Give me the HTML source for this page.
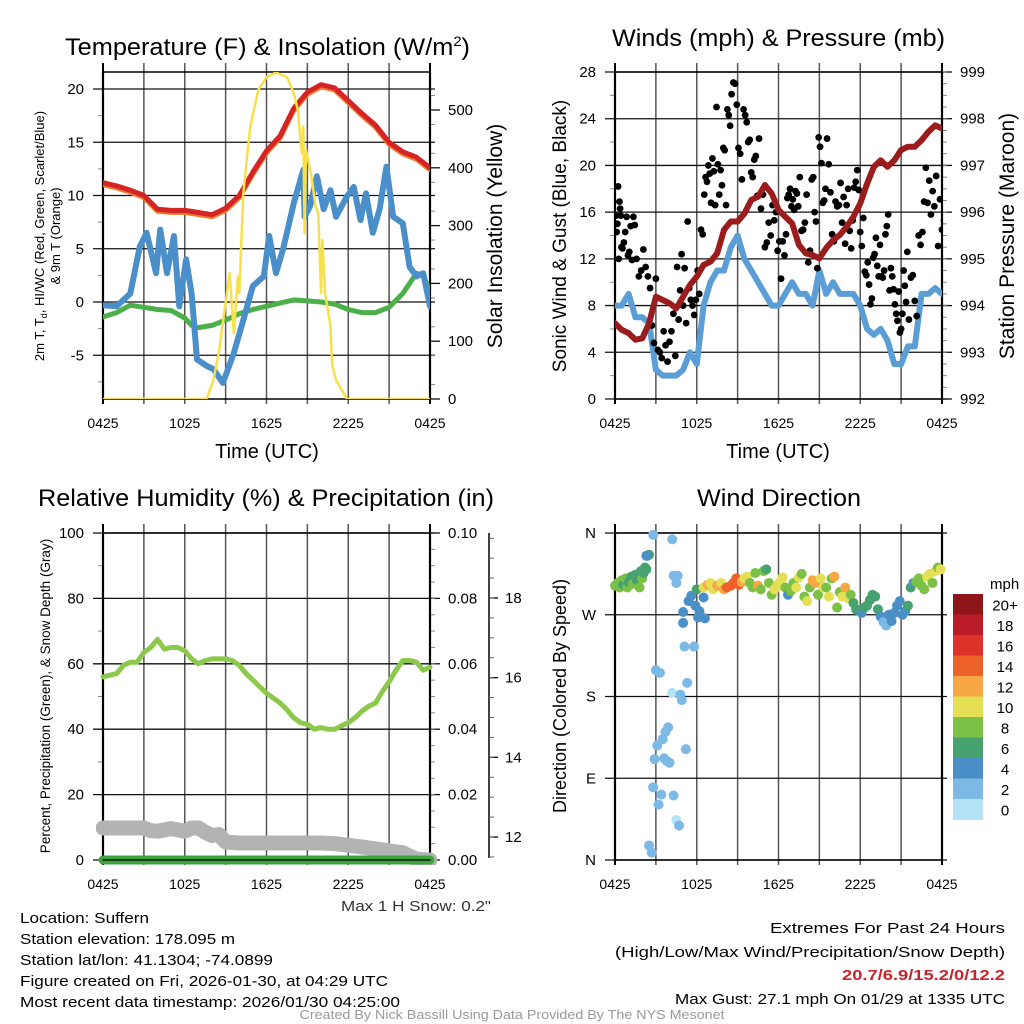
<!DOCTYPE html>
<html><head><meta charset="utf-8"><title>Suffern meteogram</title>
<style>
html,body{margin:0;padding:0;background:#fff;}
svg{display:block;font-family:"Liberation Sans",Arial,sans-serif;}
</style></head>
<body>
<svg id="chart" width="1024" height="1024" viewBox="0 0 1024 1024" xmlns="http://www.w3.org/2000/svg">
<rect width="1024" height="1024" fill="#fff"/>
<defs>
<clipPath id="c1"><rect x="103" y="72" width="327" height="327"/></clipPath>
<clipPath id="c2"><rect x="615" y="72" width="327" height="327"/></clipPath>
<clipPath id="c3"><rect x="96" y="520" width="341" height="345"/></clipPath>
<clipPath id="c4"><rect x="609" y="527" width="339" height="339"/></clipPath>
</defs>
<text x="65" y="55" font-size="24" textLength="405" lengthAdjust="spacingAndGlyphs">Temperature (F) &amp; Insolation (W/m<tspan dy="-9" font-size="14">2</tspan><tspan dy="9">)</tspan></text>
<text x="612" y="46" font-size="24" textLength="333" lengthAdjust="spacingAndGlyphs">Winds (mph) &amp; Pressure (mb)</text>
<text x="38" y="506" font-size="24" textLength="456" lengthAdjust="spacingAndGlyphs">Relative Humidity (%) &amp; Precipitation (in)</text>
<text x="697" y="506" font-size="24" textLength="164" lengthAdjust="spacingAndGlyphs">Wind Direction</text>

<text x="267" y="458" font-size="20" text-anchor="middle">Time (UTC)</text>
<text x="778" y="458" font-size="20" text-anchor="middle">Time (UTC)</text>
<text transform="translate(44,236) rotate(-90)" font-size="13" text-anchor="middle">2m T, T<tspan font-size="9" dy="3">d</tspan><tspan dy="-3">, HI/WC (Red, Green, Scarlet/Blue)</tspan></text>
<text transform="translate(60,236) rotate(-90)" font-size="13" text-anchor="middle">&amp; 9m T (Orange)</text>
<text transform="translate(502,236) rotate(-90)" font-size="21" text-anchor="middle">Solar Insolation (Yellow)</text>
<text transform="translate(566,236) rotate(-90)" font-size="19" text-anchor="middle">Sonic Wind &amp; Gust (Blue, Black)</text>
<text transform="translate(1014,236) rotate(-90)" font-size="21" text-anchor="middle">Station Pressure (Maroon)</text>
<text transform="translate(50,696) rotate(-90)" font-size="13.5" text-anchor="middle">Percent, Precipitation (Green), &amp; Snow Depth (Gray)</text>
<text transform="translate(566,696) rotate(-90)" font-size="18" text-anchor="middle">Direction (Colored By Speed)</text>

<g id="footer" font-size="15">
<text x="491" y="911" text-anchor="end" fill="#333" textLength="150" lengthAdjust="spacingAndGlyphs">Max 1 H Snow: 0.2"</text>
<text x="20" y="923" textLength="129" lengthAdjust="spacingAndGlyphs">Location: Suffern</text>
<text x="20" y="944" textLength="215" lengthAdjust="spacingAndGlyphs">Station elevation: 178.095 m</text>
<text x="20" y="965" textLength="253" lengthAdjust="spacingAndGlyphs">Station lat/lon: 41.1304; -74.0899</text>
<text x="20" y="986" textLength="368" lengthAdjust="spacingAndGlyphs">Figure created on Fri, 2026-01-30, at 04:29 UTC</text>
<text x="20" y="1007" textLength="380" lengthAdjust="spacingAndGlyphs">Most recent data timestamp: 2026/01/30 04:25:00</text>
<text x="1005" y="933" text-anchor="end" textLength="235" lengthAdjust="spacingAndGlyphs">Extremes For Past 24 Hours</text>
<text x="1005" y="957" text-anchor="end" textLength="390" lengthAdjust="spacingAndGlyphs">(High/Low/Max Wind/Precipitation/Snow Depth)</text>
<text x="1005" y="980" text-anchor="end" fill="#cc2229" font-weight="bold" textLength="163" lengthAdjust="spacingAndGlyphs">20.7/6.9/15.2/0/12.2</text>
<text x="1005" y="1004" text-anchor="end" textLength="330" lengthAdjust="spacingAndGlyphs">Max Gust: 27.1 mph On 01/29 at 1335 UTC</text>
<text x="512" y="1019" text-anchor="middle" fill="#999" font-size="13" textLength="425" lengthAdjust="spacingAndGlyphs">Created By Nick Bassill Using Data Provided By The NYS Mesonet</text>
</g>
</svg>
<script>
// ---------- data ----------
const hourT = [0,1,2,3,4,5,6,7,8,9,10,11,12,13,14,15,16,17,18,19,20,21,22,23,24];
const tempF = [11.2,10.9,10.5,10.0,8.7,8.6,8.6,8.4,8.2,8.8,10.0,12.2,14.2,15.6,18.2,19.7,20.4,20.1,18.9,17.7,16.6,15.0,14.1,13.6,12.6];
const dewT = [0,1,2,3,4,5,6,6.5,7,8,9,10,11,12,13,14,15,16,17,18,19,20,21,22,23,23.5,24];
const dewF = [-1.4,-1.0,-0.3,-0.5,-0.7,-0.8,-1.5,-2.2,-2.4,-2.2,-1.7,-1.1,-0.7,-0.4,-0.1,0.2,0.1,0.0,-0.2,-0.7,-1.0,-1.0,-0.5,0.8,2.7,2.5,1.0];
const wcT = [0,1,2,2.7,3.2,3.9,4.2,4.7,5.2,5.6,6.1,6.5,6.9,7.6,8.1,8.8,9.6,10.3,11,11.8,12.2,12.7,13.2,14,14.7,14.8,15.2,15.7,16.2,16.7,17.1,17.9,18.4,18.9,19.3,19.8,20.3,20.8,21.3,22,22.5,23,23.5,24];
const wcF = [-0.3,-0.4,0.8,5.2,6.5,2.7,6.8,2.7,6.2,-0.4,4.0,0.8,-5.4,-6.0,-6.3,-7.6,-4.8,-1.7,1.5,2.4,6.2,2.7,4.9,9.3,12.4,8.0,9.0,11.8,8.7,10.5,8.0,9.9,10.8,7.7,10.2,6.5,8.7,12.7,8.0,7.4,3.3,2.4,2.7,-0.4];
const solT = [0,7.6,8.1,8.5,9.3,9.6,9.9,10,10.3,10.8,11.4,12,12.7,13.5,14,14.3,14.6,14.7,14.8,14.9,15.3,15.6,15.8,16,16.1,16.3,16.7,16.8,17.1,17.9,24];
const solW = [0,0,33,80,218,114,212,183,356,471,535,557,565,557,529,500,425,471,287,431,385,333,321,183,275,183,126,62,33,0,0];
const tempTicks = [-5,0,5,10,15,20];
const solTicks = [0,100,200,300,400,500];
const timeLabels = ['0425','1025','1625','2225','0425'];

const halfT = [0,0.5,1,1.5,2,2.5,3,3.5,4,4.5,5,5.5,6,6.5,7,7.5,8,8.5,9,9.5,10,10.5,11,11.5,12,12.5,13,13.5,14,14.5,15,15.5,16,16.5,17,17.5,18,18.5,19,19.5,20,20.5,21,21.5,22,22.5,23,23.5,24];
const presMb = [993.62,993.48,993.41,993.27,993.3,993.62,994.19,994.12,994.05,993.94,994.19,994.44,994.62,994.87,994.94,995.12,995.62,995.8,995.8,995.97,996.26,996.33,996.58,996.4,996.05,995.9,995.76,995.3,995.12,995.08,995.01,995.23,995.4,995.51,995.69,995.9,996.19,996.61,996.97,997.11,996.97,997.11,997.33,997.4,997.4,997.54,997.72,997.86,997.79];
const windMph = [8,8,9,7,7,6.5,2.5,2,2,2,2.5,4,3,8,10,11,11,13,14,12,11,10,9,8,8,9,10,9,9,8,11,9,10,9,9,9,8,6,5.5,6,5,3,3,4.5,4.5,9,9,9.5,9];
const gustBlockStart = [0,0.5,1.5,2.5,3.5,4.5,5.5,6.5,7.5,8.5,9.5,10.5,11.5,12.5,13.5,14.5,15.5,16.5,17.5,18.5,19.5,20.5,21.5,22.5,23.5];
const gustBlocks = [
 [15,15.7,14.3,15,18.2,12,16.9,16.3,15.7,13],
 [12.9,13.4,14.3,15.6,12.3,12.6,14.8,11.9,15.6,14.9],
 [12,10.5,11,12.8,11.3,10.5],
 [9.5,6.3,4.8,10.3,4.2,4,3.5],
 [5.8,4.6,3.2,4.9,5.8,7.3,3.7],
 [11.3,6.8,9.3,12.4,8,11.2,6.5,15.2,9.5],
 [8.5,8.0,7.2,8.5,11,9,14.5,14.1],
 [17.5,19,18.6,20,19.3,16.8,20.6,19.5,16.6,25],
 [20.1,17.5,19.6,18.3,21.5,21.3,16.6,24.8,24.3,23.4],
 [26.1,27.1,27,25.2,21.5,21,18.8,24.8],
 [24.3,23.7,22,22.2,19.4,19,20.5,20.8,17.4],
 [22.3,16.3,17.5,13,13.4,15.1,14],
 [16.6,15.3,16,12.7,13.5,10.3,13.5,12.3],
 [14.1,17.2,17.5,18,16.5,17.1,16.2,17.8,17.6,16.5],
 [19,14.4,14.5,15.1,17.5,11.7,12.7,18.8],
 [19,16,15.2,11.2,22.4,21.6,20.2,16.8,17,18],
 [22.3,20.1,17.7,14.1,13.5,16.9,16.5,16.6],
 [18.5,15.1,17.3,13.3,16.6,18,14.4,12.9,15.3],
 [18.1,18.6,19.6,17.9,14.3,13.1,15.5,10.9,10.6],
 [11.7,9.8,8.1,8.6,12.1,12.4,13.8,11.4,10.5,13.2],
 [10.5,10.4,11,14.1,14.8,15.8,9.3,11.2,10.5,9.4],
 [8.1,7.3,6.7,9.2,5.7,6,7.3,11,9.7,8.3,12.6],
 [6.8,10.4,10.6,8.4,7.1,14,13.2],
 [14.3,16.9,19.8,16.8,18.7,15.8,17.8,16.5],
 [19.1,13.1,17.1,14.5,15.3,20.2,16.6]];
const windTicks = [0,4,8,12,16,20,24,28];
const presTicks = [992,993,994,995,996,997,998,999];

const rhPct = [56,56.5,57,59.5,60.5,60.5,63.5,65,67.5,64.5,65,65,64,61.5,60,61,61.5,61.5,61.5,61,59.5,57,55,53,51,49.5,48,46,43.5,42,41.5,40,40.5,40,40,41,42,43.5,45.5,47,48,51.5,54.5,58,61,61,60.5,58,59];
const snowT = [0,1,2,3,3.5,4,5,6,6.5,7,7.5,8,8.5,9,10,12,14,16,17,18,19,20,21,22,22.5,23,24];
const snowPct = [9.8,9.8,9.8,9.8,9,8.8,9.6,8.8,9.8,9.8,8.5,7.5,7.8,5.5,5.2,5.2,5.2,5.2,5.0,4.5,4.0,3.4,2.8,2.2,1.2,0.2,0];
const precipIn = [0,0,0,0,0,0,0,0,0,0,0,0,0,0,0,0,0,0,0,0,0,0,0,0,0];
const rhTicks = [0,20,40,60,80,100];
const precipTicks = ['0.00','0.02','0.04','0.06','0.08','0.10'];
const snowTicks = [12,14,16,18];

const dirT = [0,0.2,0.35,0.5,0.6,0.8,0.9,1.0,1.2,1.3,1.5,1.6,1.8,1.9,2.0,2.1,2.2,2.3,2.4,2.5,2.3,
 2.8,3.0,3.3,2.5,2.7,2.8,3.2,3.4,2.9,3.1,3.5,3.7,3.9,3.6,3.8,4.0,4.2,4.3,4.6,4.5,4.2,4.3,4.5,4.7,4.8,4.9,5.2,5.3,5.1,5.8,
 5.0,5.0,5.4,5.6,6.0,6.2,6.1,6.6,6.5,5.9,
 6.5,6.8,7.0,7.2,7.5,7.8,8.0,8.2,8.5,8.7,8.9,9.1,9.3,9.5,9.7,9.9,10.1,10.3,10.5,10.7,10.9,11.1,11.3,11.5,11.7,11.9,12.1,12.3,12.5,12.7,12.9,13.1,13.3,13.5,13.7,13.9,14.1,14.3,14.5,14.7,14.9,15.1,15.3,15.5,15.7,15.9,16.1,16.3,16.5,16.7,16.9,17.1,17.3,17.5,17.7,17.9,18.1,18.3,18.5,18.7,18.9,19.1,19.3,19.5,19.7,19.9,20.1,20.3,20.5,20.7,20.9,21.1,21.3,21.5,21.7,21.9,22.1,22.3,22.5,22.7,22.9,23.1,23.3,23.5,23.7,23.9];
const dirDeg = [302,305,300,308,303,310,300,306,312,304,314,308,300,318,310,316,322,320,335,336,335,
 358,209,206,16,8,80,61,72,111,126,133,141,146,112,109,107,353,313,313,305,184,71,44,38,182,176,122,195,235,235,
 261,273,285,291,298,274,267,266,289,280,
 300,303,305,298,302,305,298,300,302,305,310,303,306,310,312,305,300,316,302,298,318,320,305,292,298,302,306,311,300,292,296,305,300,311,315,290,285,300,308,305,292,310,300,300,290,310,312,278,295,290,300,288,292,283,276,274,272,278,280,286,292,290,276,268,262,258,270,263,272,280,285,270,274,280,300,305,306,310,302,298,312,315,305,318,322,320];
const dirSpd = [7,8,7,8,6,7,8,6,6,8,6,6,8,6,8,6,6,6,6,6,4,
 2,2,2,2,2,2,2,2,2,2,2,2,2,2,2,2,2,1,2,2,0,2,0,2,2,2,2,2,2,2,
 4,4,4,4,6,4,3,4,4,4,
 10,12,10,10,12,10,12,14,14,14,14,14,12,10,10,8,8,8,12,8,8,6,8,8,10,10,10,10,8,4,8,8,10,10,8,8,10,8,12,12,8,10,10,8,10,8,12,8,8,10,12,10,8,6,6,6,4,6,6,6,6,6,6,4,2,2,4,4,4,4,4,4,4,6,6,4,8,8,8,8,10,10,8,10,8,10];
const dirLabels = ['N','E','S','W','N'];
const speedBins = ['0','2','4','6','8','10','12','14','16','18','20+'];
const speedColors = ['#b4e3f8','#7cb9e4','#4a8fc6','#46a26e','#7cc146','#e5df55','#f7a744','#ee6129','#dd3328','#bb1c27','#8e1519'];

// ---------- helpers ----------
const NS='http://www.w3.org/2000/svg';
const svg=document.getElementById('chart');
function el(tag, attrs, parent){const e=document.createElementNS(NS,tag);for(const k in attrs)e.setAttribute(k,attrs[k]);(parent||svg).appendChild(e);return e;}
function lin(d0,d1,r0,r1){return v=>r0+(v-d0)*(r1-r0)/(d1-d0);}
function pathD(xs,ys,fx,fy){return xs.map((t,i)=>(i?'L':'M')+fx(t).toFixed(1)+','+fy(ys[i]).toFixed(1)).join('');}

const panels=[{x0:103,x1:430,y0:72,y1:399},{x0:615,x1:942,y0:72,y1:399},{x0:103,x1:430,y0:533,y1:860},{x0:615,x1:942,y0:533,y1:860}];

function frame(p, idx, leftVals, fyL, leftLabels, rightVals, fyR, rightLabels, leftMinor, rightMinor){
  const g=el('g',{});
  
  
  const fx=lin(0,24,p.x0,p.x1);
  for(let h=0;h<=24;h+=3){
    const v=el('line',{x1:fx(h),x2:fx(h),y1:p.y0-9,y2:p.y1+5,stroke:(h%24===0)?'#000':'#555','stroke-width':(h%24===0)?2:1.5},g);
    
    
  }
  leftVals.forEach((v,i)=>{
    const y=fyL(v);
    const l=el('line',{x1:p.x0-10,x2:p.x1+5,y1:y,y2:y,stroke:'#111','stroke-width':1.3},g);
    
    
    const t=el('text',{x:p.x0-19,y:y+5,'font-size':15,'text-anchor':'end'},g);
    t.textContent=leftLabels[i];
    
    
  });
  (leftMinor||[]).forEach(v=>{const y=fyL(v);el('line',{x1:p.x0-5,x2:p.x0,y1:y,y2:y,stroke:'#888','stroke-width':1},g);});
  rightVals.forEach((v,i)=>{
    const y=fyR(v);
    el('line',{x1:p.x1,x2:p.x1+10,y1:y,y2:y,stroke:'#111','stroke-width':1.3},g);
    const t=el('text',{x:p.x1+18,y:y+5,'font-size':15},g);
    t.textContent=rightLabels[i];
    
    
  });
  (rightMinor||[]).forEach(v=>{const y=fyR(v);el('line',{x1:p.x1,x2:p.x1+5,y1:y,y2:y,stroke:'#888','stroke-width':1},g);});
  el('line',{x1:p.x0,x2:p.x0,y1:p.y0,y2:p.y1,stroke:'#000','stroke-width':2.2},g);
  el('line',{x1:p.x1,x2:p.x1,y1:p.y0,y2:p.y1,stroke:'#000','stroke-width':2.2},g);
  el('line',{x1:p.x0,x2:p.x1,y1:p.y0,y2:p.y0,stroke:'#000','stroke-width':1.5},g);
  el('line',{x1:p.x0,x2:p.x1,y1:p.y1,y2:p.y1,stroke:'#000','stroke-width':1.5},g);
  timeLabels.forEach((s,i)=>{
    const t=el('text',{x:fx(i*6),y:p.y1+29,'font-size':14,'text-anchor':'middle'},g);
    t.textContent=s;
    
    
  });
  return fx;
}
function range(a,b,s){const r=[];for(let v=a;v<=b+1e-9;v+=s)r.push(+v.toFixed(4));return r;}

// ---------- panel 1 ----------
{
 const p=panels[0];
 const fy=lin(0,20,302,89), fyS=lin(0,500,399,110);
 const fx=frame(p,1,tempTicks,fy,tempTicks.map(String),solTicks,fyS,solTicks.map(String),range(-7.5,20,5),range(25,550,50));
 const g=el('g',{'clip-path':'url(#c1)',fill:'none','stroke-linejoin':'round','stroke-linecap':'round'});
 let e;
 e=el('path',{d:pathD(dewT,dewF,fx,fy),stroke:'#4bb04a','stroke-width':5},g);
  
 e=el('path',{d:pathD(wcT,wcF,fx,fy),stroke:'#4a8fca','stroke-width':6},g);
  
 e=el('path',{d:pathD(hourT,tempF,fx,fy),stroke:'#f07a2c','stroke-width':5,transform:'translate(0,2)'},g);
  
 e=el('path',{d:pathD(hourT,tempF,fx,fy),stroke:'#d42424','stroke-width':5},g);
  
 e=el('path',{d:pathD(solT,solW,fx,fyS),stroke:'#f8e04c','stroke-width':2.5},g);
  
}
// ---------- panel 2 ----------
{
 const p=panels[1];
 const fy=lin(0,28,399,72), fyP=lin(992,999,399,72);
 const fx=frame(p,2,windTicks,fy,windTicks.map(String),presTicks,fyP,presTicks.map(String),range(2,26,4),range(992.25,999,0.25));
 const g=el('g',{'clip-path':'url(#c2)','stroke-linejoin':'round','stroke-linecap':'round'});
 let e=el('path',{d:pathD(halfT,windMph,fx,fy),stroke:'#5b9ed6','stroke-width':6,fill:'none'},g);
  
 gustBlocks.forEach((blk,b)=>{
   const span=(b===0)?0.5:1;
   blk.forEach((v,i)=>{
     const t=gustBlockStart[b]+span*(i+0.5)/blk.length;
     const c=el('circle',{cx:fx(t),cy:fy(v),r:3.4,fill:'#000'},g);
     
     
   });
 });
 e=el('path',{d:pathD(halfT,presMb,fx,fyP),stroke:'#9b1c1c','stroke-width':6,fill:'none'},g);
  
}
// ---------- panel 3 ----------
{
 const p=panels[2];
 const fy=lin(0,100,860,533);
 const fx=frame(p,3,rhTicks,fy,rhTicks.map(String),rhTicks,fy,precipTicks,range(10,90,20),range(5,95,5));
 const fyD=lin(12,18,837,598);
 const ax=el('g',{});
 
 
 el('line',{x1:489,x2:489,y1:533,y2:858,stroke:'#000','stroke-width':1.5},ax);
 snowTicks.forEach(v=>{
   el('line',{x1:489,x2:498,y1:fyD(v),y2:fyD(v),stroke:'#000','stroke-width':1.3},ax);
   const t=el('text',{x:505,y:fyD(v)+5,'font-size':15},ax); t.textContent=String(v);
   
   
 });
 range(11.5,19.5,0.5).forEach(v=>{const y=fyD(v); if(y>=533&&y<=858) el('line',{x1:489,x2:494,y1:y,y2:y,stroke:'#666','stroke-width':1},ax);});
 const g=el('g',{'clip-path':'url(#c3)',fill:'none','stroke-linejoin':'round','stroke-linecap':'round'});
 let e=el('path',{d:pathD(snowT,snowPct,fx,fy),stroke:'#b3b3b3','stroke-width':15},g);
  
 e=el('path',{d:pathD(hourT,precipIn.map(v=>v*1000),fx,fy),stroke:'#3ea53e','stroke-width':9},g);
  
 el('line',{x1:p.x0,x2:p.x1,y1:860,y2:860,stroke:'#000','stroke-width':1.3},g);
 e=el('path',{d:pathD(halfT,rhPct,fx,fy),stroke:'#8cc84b','stroke-width':5},g);
  
}
// ---------- panel 4 ----------
{
 const p=panels[3];
 const fy=lin(0,360,860,533);
 const dv=[0,90,180,270,360];
 const fx=frame(p,4,dv,fy,dirLabels,[],fy,[],[],[]);
 const g=el('g',{'clip-path':'url(#c4)'});
 dirT.forEach((t,i)=>{
   const bin=Math.min(10,Math.max(0,Math.round(dirSpd[i]/2)));
   const c=el('circle',{cx:fx(t),cy:fy(dirDeg[i]),r:5,fill:speedColors[bin]},g);
   
   
 });
 const lg=el('g',{});
 
 
 const t0=el('text',{x:990,y:589,'font-size':15},lg); t0.textContent='mph';
 const bh=20.5;
 speedBins.forEach((s,i)=>{
   const k=10-i;
   const y=594+i*bh;
   const r=el('rect',{x:953,y:y,width:30,height:bh+0.5,fill:speedColors[k]},lg);
   
   
   const t=el('text',{x:1005,y:y+bh/2+6,'font-size':15,'text-anchor':'middle'},lg);
   t.textContent=speedBins[k];
   
   
 });
}
</script>
</body></html>
